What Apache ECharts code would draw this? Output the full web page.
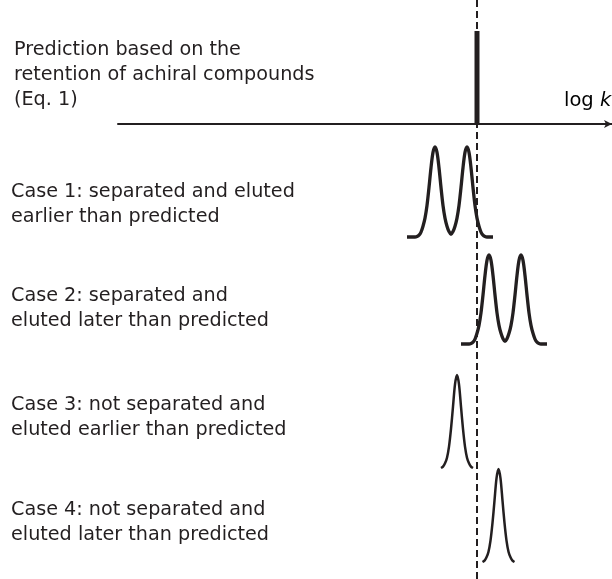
<!DOCTYPE html>
<html>
<head>
<meta charset="utf-8">
<script src="https://cdn.jsdelivr.net/npm/echarts@6/dist/echarts.min.js"></script>
<style>html,body{margin:0;padding:0;background:#fff;}#chart{width:612px;height:579px;}</style>
</head>
<body>
<div id="chart"></div>
<script>
// log k relative to predicted value (arbitrary units); signal normalised 0..1
const predicted = [[0, 0], [0, 1]];
const case1 = [[-0.70,0],[-0.68,0],[-0.66,0],[-0.64,0],[-0.62,0],[-0.60,0.005],[-0.58,0.02],[-0.56,0.055],[-0.54,0.12],[-0.52,0.21],[-0.50,0.35],[-0.48,0.55],[-0.46,0.77],[-0.44,0.94],[-0.42,1],[-0.40,0.94],[-0.38,0.77],[-0.36,0.55],[-0.34,0.35],[-0.32,0.21],[-0.30,0.12],[-0.28,0.06],[-0.26,0.03],[-0.24,0.06],[-0.22,0.12],[-0.20,0.21],[-0.18,0.35],[-0.16,0.55],[-0.14,0.77],[-0.12,0.94],[-0.10,1],[-0.08,0.94],[-0.06,0.77],[-0.04,0.55],[-0.02,0.35],[0.00,0.21],[0.02,0.12],[0.04,0.055],[0.06,0.02],[0.08,0.005],[0.10,0],[0.12,0],[0.14,0],[0.16,0]];
const case2 = [[-0.16,0],[-0.14,0],[-0.12,0],[-0.10,0],[-0.08,0],[-0.06,0.005],[-0.04,0.02],[-0.02,0.055],[0.00,0.12],[0.02,0.21],[0.04,0.35],[0.06,0.55],[0.08,0.77],[0.10,0.94],[0.12,1],[0.14,0.94],[0.16,0.77],[0.18,0.55],[0.20,0.35],[0.22,0.21],[0.24,0.12],[0.26,0.06],[0.28,0.03],[0.30,0.06],[0.32,0.12],[0.34,0.21],[0.36,0.35],[0.38,0.55],[0.40,0.77],[0.42,0.94],[0.44,1],[0.46,0.94],[0.48,0.77],[0.50,0.55],[0.52,0.35],[0.54,0.21],[0.56,0.12],[0.58,0.055],[0.60,0.02],[0.62,0.005],[0.64,0],[0.66,0],[0.68,0],[0.70,0]];
const case3 = [[-0.36,0],[-0.34,0.015],[-0.32,0.05],[-0.30,0.11],[-0.28,0.23],[-0.26,0.42],[-0.24,0.66],[-0.22,0.90],[-0.20,1],[-0.18,0.90],[-0.16,0.66],[-0.14,0.42],[-0.12,0.23],[-0.10,0.11],[-0.08,0.05],[-0.06,0.015],[-0.04,0]];
const case4 = [[0.055,0],[0.075,0.015],[0.095,0.05],[0.115,0.11],[0.135,0.23],[0.155,0.42],[0.175,0.66],[0.195,0.90],[0.215,1],[0.235,0.90],[0.255,0.66],[0.275,0.42],[0.295,0.23],[0.315,0.11],[0.335,0.05],[0.355,0.015],[0.375,0]];
const dashedRef = [[0, 0], [0, 1]];

const predictionLabel = "Prediction based on the\nretention of achiral compounds\n(Eq. 1)";
const caseLabels = [
  "Case 1: separated and eluted\nearlier than predicted",
  "Case 2: separated and\neluted later than predicted",
  "Case 3: not separated and\neluted earlier than predicted",
  "Case 4: not separated and\neluted later than predicted"
];
const axisName = "log ";
const axisNameItalic = "k";

const INK = '#231f20';
const FONT = '"DejaVu Sans", sans-serif';
const FS = 19.2;

const grids = [
  {left: 118, right: 0, top: 31, height: 93},   // prediction
  {left: 0, right: 0, top: 147, height: 90},    // case 1
  {left: 0, right: 0, top: 255, height: 89},    // case 2
  {left: 0, right: 0, top: 375, height: 93},    // case 3
  {left: 0, right: 0, top: 469, height: 93},    // case 4
  {left: 0, right: 0, top: 0, bottom: 0}        // dashed reference
];
const hidden = {show: false};
const xAxes = grids.map((g, i) => ({
  type: 'value', gridIndex: i,
  min: i === 0 ? -3.59 : -4.77, max: 1.35,
  axisLine: i === 0 ? {show: true, onZero: true, symbol: ['none', 'arrow'], symbolSize: [6, 8],
    lineStyle: {color: INK, width: 2}} : hidden,
  axisTick: hidden, axisLabel: hidden, splitLine: hidden
}));
const yAxes = grids.map((g, i) => ({
  type: 'value', gridIndex: i, min: 0, max: 1,
  axisLine: hidden, axisTick: hidden, axisLabel: hidden, splitLine: hidden
}));

function peak(data, idx, w) {
  return {type: 'line', xAxisIndex: idx, yAxisIndex: idx, data: data, smooth: 0.3,
    showSymbol: false, clip: false, silent: true,
    lineStyle: {color: INK, width: w, cap: 'butt', join: 'round'}};
}

const caseTops = [180, 284, 393, 498];
const graphic = [
  {type: 'text', left: 14, top: 38, style: {text: predictionLabel, font: FS + 'px ' + FONT, fill: INK, lineHeight: 25}},
  ...caseLabels.map((t, i) => ({type: 'text', left: 11, top: caseTops[i],
    style: {text: t, font: FS + 'px ' + FONT, fill: INK, lineHeight: 25}})),
  {type: 'text', left: 564, top: 91, style: {
    text: '{a|' + axisName + '}{b|' + axisNameItalic + '}',
    rich: {a: {fontSize: 19.5, fontFamily: FONT, color: INK}, b: {fontSize: 19.5, fontFamily: FONT, fontStyle: 'italic', color: INK}}}}
];

const chart = echarts.init(document.getElementById('chart'), null, {renderer: 'canvas'});
chart.setOption({
  animation: false,
  backgroundColor: '#fff',
  grid: grids,
  xAxis: xAxes,
  yAxis: yAxes,
  graphic: graphic,
  series: [
    {type: 'line', xAxisIndex: 5, yAxisIndex: 5, data: dashedRef, showSymbol: false, silent: true, clip: false,
      lineStyle: {color: INK, width: 2, type: [7, 4]}},
    {type: 'line', xAxisIndex: 0, yAxisIndex: 0, data: predicted, showSymbol: false, silent: true, clip: false,
      lineStyle: {color: INK, width: 5, cap: 'butt'}},
    peak(case1, 1, 3.3),
    peak(case2, 2, 3.3),
    peak(case3, 3, 2.5),
    peak(case4, 4, 2.5)
  ]
});
</script>
</body>
</html>
